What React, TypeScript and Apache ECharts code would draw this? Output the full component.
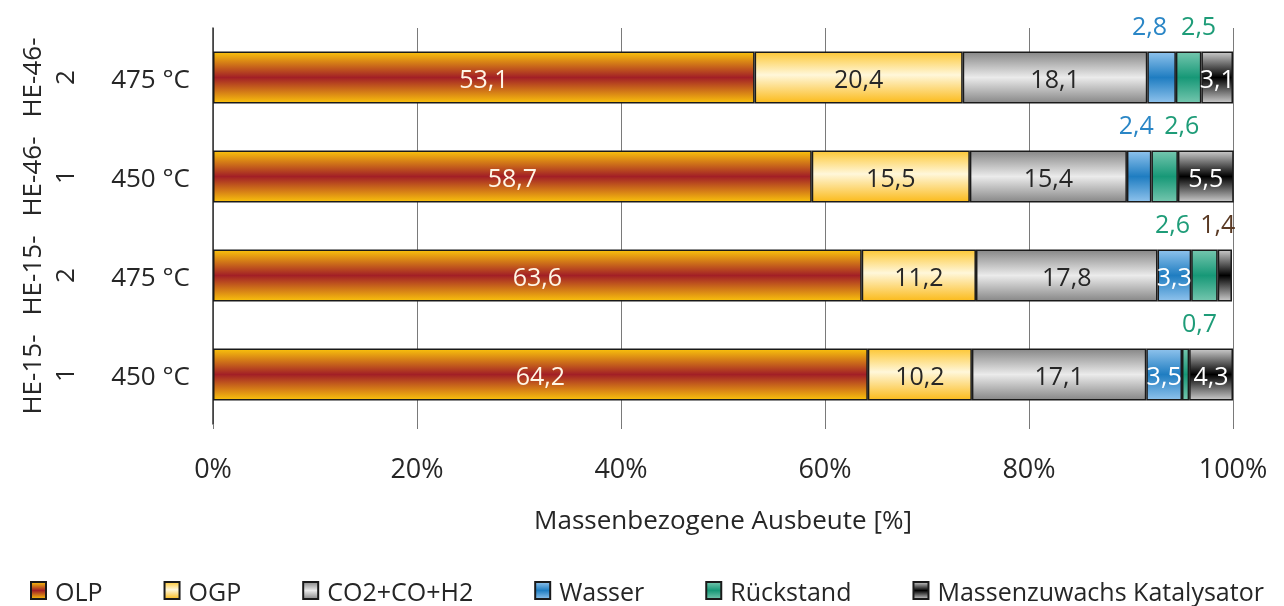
import { useEffect, useRef } from "react";
import * as echarts from "echarts";

// Samples (bottom to top) and their reactor temperatures
const categories = ["HE-15-\n1", "HE-15-\n2", "HE-46-\n1", "HE-46-\n2"];
const temperatures = ["450 °C", "475 °C", "450 °C", "475 °C"];

// Mass-based yields in %
const olp = [64.2, 63.6, 58.7, 53.1];
const ogp = [10.2, 11.2, 15.5, 20.4];
const gas = [17.1, 17.8, 15.4, 18.1];
const wasser = [3.5, 3.3, 2.4, 2.8];
const rueckstand = [0.7, 2.6, 2.6, 2.5];
const katalysator = [4.3, 1.4, 5.5, 3.1];

const xTicks = [0, 20, 40, 60, 80, 100];

const FONT = "'Open Sans', 'Noto Sans', sans-serif";
const TEXT = "#262626";

// Small segments get their value printed above the bar, shifted sideways
const wasserAbove = [
  { idx: 2, dx: -3 },
  { idx: 3, dx: -12 },
];
const rueckstandAbove = [
  { idx: 0, dx: 14 },
  { idx: 1, dx: -32 },
  { idx: 2, dx: 17 },
  { idx: 3, dx: 10 },
];
const katalysatorAbove = [{ idx: 1, dx: -7 }];

const grad = (stops: [number, string][]) =>
  new echarts.graphic.LinearGradient(
    0,
    0,
    0,
    1,
    stops.map(([offset, color]) => ({ offset, color }))
  );

const fmt = (p: any) => String(p.value).replace(".", ",");

function withAbove(
  values: number[],
  above: { idx: number; dx: number }[],
  color: string
) {
  return values.map((v, i) => {
    const a = above.find((s) => s.idx === i);
    if (!a) return v;
    return {
      value: v,
      label: {
        position: "top",
        distance: 14,
        offset: [a.dx, 0],
        color,
      },
    };
  });
}

export default function App() {
  const ref = useRef<HTMLDivElement>(null);

  useEffect(() => {
    if (!ref.current) return;
    const chart = echarts.init(ref.current, null, { renderer: "svg" });

    const border = { borderColor: "#1a1a1a", borderWidth: 1.5 };
    const labelBase = {
      show: true,
      position: "inside",
      fontFamily: FONT,
      fontSize: 25,
      formatter: fmt,
    };

    const mk = (
      name: string,
      data: any[],
      color: any,
      labelColor: string
    ) => ({
      name,
      type: "bar",
      stack: "total",
      barWidth: 52,
      data,
      itemStyle: { color, ...border },
      label: { ...labelBase, color: labelColor },
      emphasis: { disabled: true },
    });

    const series = [
      mk(
        "OLP",
        olp,
        grad([
          [0, "#F9C10C"],
          [0.5, "#A21F26"],
          [1, "#F9C10C"],
        ]),
        "#FFF6E6"
      ),
      mk(
        "OGP",
        ogp,
        grad([
          [0, "#FDC838"],
          [0.45, "#FFF7DA"],
          [1, "#FBBB1C"],
        ]),
        TEXT
      ),
      mk(
        "CO2+CO+H2",
        gas,
        grad([
          [0, "#888888"],
          [0.5, "#EBEBEB"],
          [1, "#888888"],
        ]),
        TEXT
      ),
      mk(
        "Wasser",
        withAbove(wasser, wasserAbove, "#2A86C6"),
        grad([
          [0, "#8EC2EC"],
          [0.5, "#1F7DC1"],
          [1, "#8EC2EC"],
        ]),
        "#FFFFFF"
      ),
      mk(
        "Rückstand",
        withAbove(rueckstand, rueckstandAbove, "#1E9C78"),
        grad([
          [0, "#74C6AE"],
          [0.5, "#179877"],
          [1, "#74C6AE"],
        ]),
        "#FFFFFF"
      ),
      mk(
        "Massenzuwachs Katalysator",
        withAbove(katalysator, katalysatorAbove, "#5A3A24"),
        grad([
          [0, "#C9C9C9"],
          [0.5, "#000000"],
          [1, "#C9C9C9"],
        ]),
        "#FFFFFF"
      ),
    ];

    chart.setOption({
      animation: false,
      textStyle: { fontFamily: FONT, color: TEXT },
      grid: { left: 213, right: 51, top: 28, bottom: 182, containLabel: false },
      xAxis: {
        type: "value",
        min: 0,
        max: 100,
        interval: 20,
        axisLine: { show: false },
        axisTick: { show: true, length: 5, lineStyle: { color: "#777" } },
        splitLine: { show: true, lineStyle: { color: "#7a7a7a", width: 1 } },
        axisLabel: {
          fontSize: 27,
          color: TEXT,
          margin: 30,
          formatter: (v: number) => (xTicks.includes(v) ? `${v}%` : ""),
        },
        name: "Massenbezogene Ausbeute [%]",
        nameLocation: "middle",
        nameGap: 82,
        nameTextStyle: { fontSize: 26, color: TEXT, fontFamily: FONT },
      },
      yAxis: [
        {
          type: "category",
          data: categories,
          axisLine: { show: true, lineStyle: { color: "#333", width: 1.5 } },
          axisTick: { show: false },
          axisLabel: {
            fontSize: 26,
            color: TEXT,
            margin: 23,
            interval: 0,
            formatter: (_v: string, i: number) => temperatures[i],
          },
        },
        {
          type: "category",
          position: "left",
          offset: 125,
          data: categories,
          axisLine: { show: false },
          axisTick: { show: false },
          axisLabel: {
            fontSize: 26,
            color: TEXT,
            rotate: 90,
            margin: 8,
            lineHeight: 33,
            interval: 0,
          },
        },
      ],
      legend: {
        left: 25,
        top: 573,
        itemWidth: 15,
        itemHeight: 17,
        itemGap: 61,
        icon: "rect",
        textStyle: { fontSize: 25, color: TEXT, fontFamily: FONT, padding: [0, 0, 0, 4] },
        data: series.map((s) => s.name),
      },
      series,
    });

    return () => chart.dispose();
  }, []);

  return (
    <div
      ref={ref}
      style={{ position: "fixed", left: 0, top: 0, width: 1284, height: 606 }}
    />
  );
}
